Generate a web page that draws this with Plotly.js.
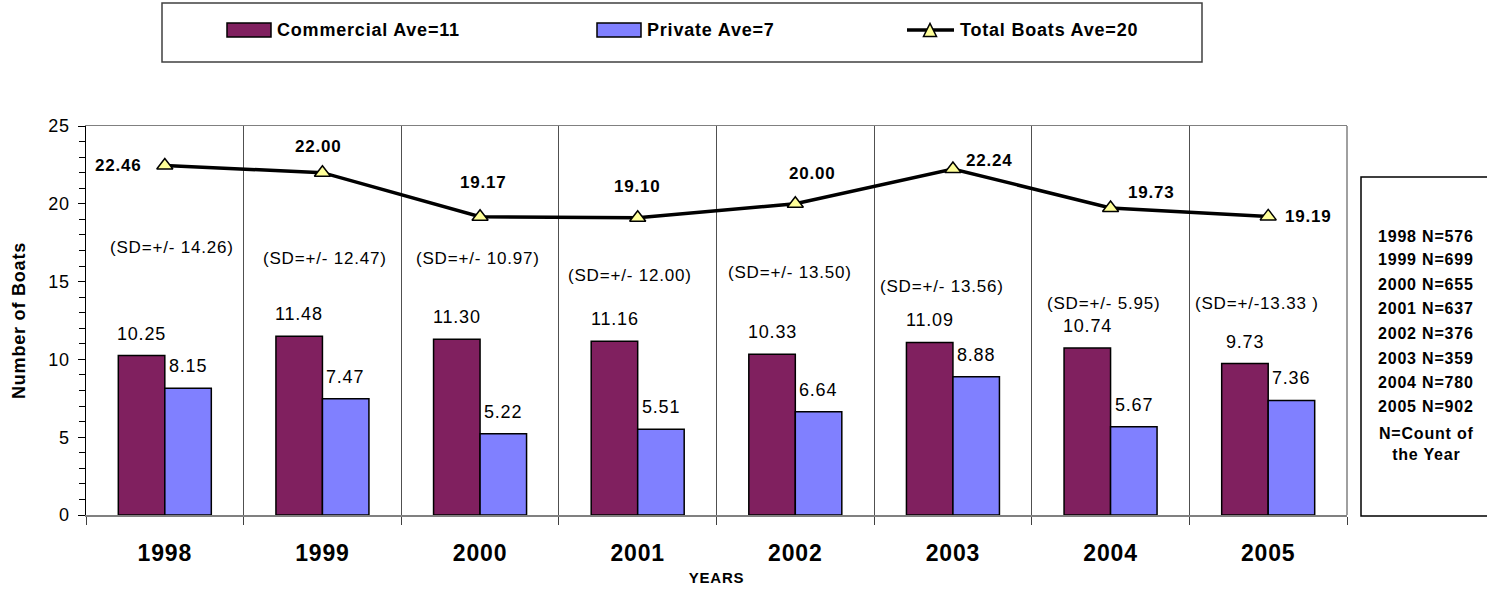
<!DOCTYPE html>
<html>
<head>
<meta charset="utf-8">
<script src="https://cdn.plot.ly/plotly-3.0.1.min.js"></script>
<style>
html,body{margin:0;padding:0;background:#fff;}
#chart{width:1487px;height:589px;}
text{letter-spacing:0.8px;}
</style>
</head>
<body>
<div id="chart"></div>
<script>
// ---- data ----
const years = ['1998','1999','2000','2001','2002','2003','2004','2005'];
const commercial = [10.25, 11.48, 11.30, 11.16, 10.33, 11.09, 10.74, 9.73];
const privateBoats = [8.15, 7.47, 5.22, 5.51, 6.64, 8.88, 5.67, 7.36];
const totalBoats = [22.46, 22.00, 19.17, 19.10, 20.00, 22.24, 19.73, 19.19];
const sdLabels = ['(SD=+/- 14.26)', '(SD=+/- 12.47)', '(SD=+/- 10.97)', '(SD=+/- 12.00)',
                  '(SD=+/- 13.50)', '(SD=+/- 13.56)', '(SD=+/- 5.95)', '(SD=+/-13.33 )'];
const countLabels = ['1998 N=576','1999 N=699','2000 N=655','2001 N=637',
                     '2002 N=376','2003 N=359','2004 N=780','2005 N=902'];
const seriesNames = ['Commercial Ave=11', 'Private Ave=7', 'Total Boats Ave=20'];

// ---- styles / label placement (pixels) ----
const FONT = 'Liberation Sans, Arial, sans-serif';
const colCommercial = '#80205F';
const colPrivate = '#8080FF';
const colTri = '#FFFF99';
const totalShift = [[-46,0],[-4,-26],[3,-34],[0,-31],[17,-30],[37,-8],[41,-16],[40,0]];
const sdPos = [[7,17.2],[3,16.5],[-2,16.5],[-8,15.4],[-5,15.6],[-11,14.7],[-7,13.6],[-11,13.6]];

const L = 86, R = 1347, T = 126, B = 515;
const px = x => (x - L) / (R - L);
const py = y => (B - y) / (B - T);

const traces = [
  {type:'bar', name:seriesNames[0], x:years, y:commercial,
   marker:{color:colCommercial, line:{color:'#000', width:1.5}}, showlegend:false, hoverinfo:'y'},
  {type:'bar', name:seriesNames[1], x:years, y:privateBoats,
   marker:{color:colPrivate, line:{color:'#000', width:1.5}}, showlegend:false, hoverinfo:'y'},
  {type:'scatter', mode:'lines+markers', name:seriesNames[2], x:years, y:totalBoats,
   line:{color:'#000', width:3.5},
   marker:{symbol:'triangle-up', size:14, color:colTri, line:{color:'#000', width:1.5}},
   showlegend:false, hoverinfo:'y'}
];

const annotations = [];
const barOff = 23;
years.forEach((yr, i) => {
  annotations.push({x:i, y:commercial[i], xref:'x', yref:'y', text:commercial[i].toFixed(2),
    showarrow:false, xshift:-barOff, yshift:22, font:{family:FONT, size:18, color:'#000'}});
  annotations.push({x:i, y:privateBoats[i], xref:'x', yref:'y', text:privateBoats[i].toFixed(2),
    showarrow:false, xshift:barOff, yshift:22, font:{family:FONT, size:18, color:'#000'}});
  annotations.push({x:i, y:totalBoats[i], xref:'x', yref:'y', text:'<b>'+totalBoats[i].toFixed(2)+'</b>',
    showarrow:false, xshift:totalShift[i][0], yshift:-totalShift[i][1], font:{family:FONT, size:17, color:'#000'}});
  annotations.push({x:i, y:sdPos[i][1], xref:'x', yref:'y', text:sdLabels[i],
    showarrow:false, xshift:sdPos[i][0], font:{family:FONT, size:17, color:'#000'}});
});

// legend texts
const legX = [275, 645, 958];
seriesNames.forEach((n, i) => annotations.push({xref:'paper', yref:'paper', x:px(legX[i]), y:py(30),
  xanchor:'left', yanchor:'middle', text:'<b>'+n+'</b>', showarrow:false,
  font:{family:FONT, size:18, color:'#000'}}));

// count box texts
const countY = [236, 259, 284, 308, 333, 358, 382, 406];
countLabels.forEach((t, i) => annotations.push({xref:'paper', yref:'paper', x:px(1426), y:py(countY[i]),
  xanchor:'center', yanchor:'middle', text:'<b>'+t+'</b>', showarrow:false,
  font:{family:FONT, size:16, color:'#000'}}));
annotations.push({xref:'paper', yref:'paper', x:px(1426), y:py(444), xanchor:'center', yanchor:'middle',
  text:'<b>N=Count of<br>the Year</b>', showarrow:false, font:{family:FONT, size:16, color:'#000'}});

const shapes = [
  // legend box
  {type:'rect', xref:'paper', yref:'paper', x0:px(162), x1:px(1202), y0:py(62), y1:py(3),
   line:{color:'#404040', width:1.5}, fillcolor:'rgba(0,0,0,0)'},
  {type:'rect', xref:'paper', yref:'paper', x0:px(227), x1:px(271), y0:py(37), y1:py(23),
   line:{color:'#000', width:1.5}, fillcolor:colCommercial},
  {type:'rect', xref:'paper', yref:'paper', x0:px(597), x1:px(641), y0:py(37), y1:py(23),
   line:{color:'#000', width:1.5}, fillcolor:colPrivate},
  {type:'line', xref:'paper', yref:'paper', x0:px(907), x1:px(954), y0:py(30), y1:py(30),
   line:{color:'#000', width:3.5}},
  {type:'path', xref:'paper', yref:'paper',
   path:'M'+px(923.5)+','+py(36.5)+' L'+px(936.5)+','+py(36.5)+' L'+px(930)+','+py(23.5)+' Z',
   line:{color:'#000', width:1.5}, fillcolor:colTri},
  // count box
  {type:'rect', xref:'paper', yref:'paper', x0:px(1361), x1:px(1500), y0:py(516), y1:py(177),
   line:{color:'#000', width:1.5}, fillcolor:'rgba(0,0,0,0)'},
  // right border of plot
  {type:'line', xref:'paper', yref:'paper', x0:1, x1:1, y0:0, y1:1, line:{color:'#808080', width:1.5}}
];

const layout = {
  width:1487, height:589,
  margin:{l:L, r:1487-R, t:T, b:589-B, pad:0},
  paper_bgcolor:'#fff', plot_bgcolor:'#fff',
  font:{family:FONT, color:'#000'},
  barmode:'group', bargap:0.41, bargroupgap:0,
  showlegend:false,
  xaxis:{type:'category', range:[-0.5, years.length-0.5], autorange:false,
    tickson:'boundaries', ticks:'outside', ticklen:8, tickcolor:'#404040',
    showgrid:true, gridcolor:'#505050', gridwidth:1,
    showline:true, linecolor:'#808080', linewidth:1.5, mirror:true,
    tickfont:{family:FONT, size:23, color:'#000', weight:'bold'}, ticklabelstandoff:17,
    title:{text:'<b>YEARS</b>', font:{family:FONT, size:15, color:'#000'}, standoff:7}},
  yaxis:{range:[0,25], autorange:false, dtick:5, tick0:0, ticks:'outside', ticklen:7, tickcolor:'#000', tickwidth:1,
    minor:{dtick:1, ticks:'outside', ticklen:6, tickcolor:'#000', showgrid:false},
    showgrid:false, zeroline:false, showline:true, linecolor:'#000', linewidth:1.5,
    tickfont:{family:FONT, size:18, color:'#000'}, ticklabelstandoff:4,
    title:{text:'<b>Number of Boats</b>', font:{family:FONT, size:18, color:'#000'}, standoff:18}},
  annotations:annotations,
  shapes:shapes
};

Plotly.newPlot('chart', traces, layout, {displayModeBar:false, staticPlot:true});
</script>
</body>
</html>
